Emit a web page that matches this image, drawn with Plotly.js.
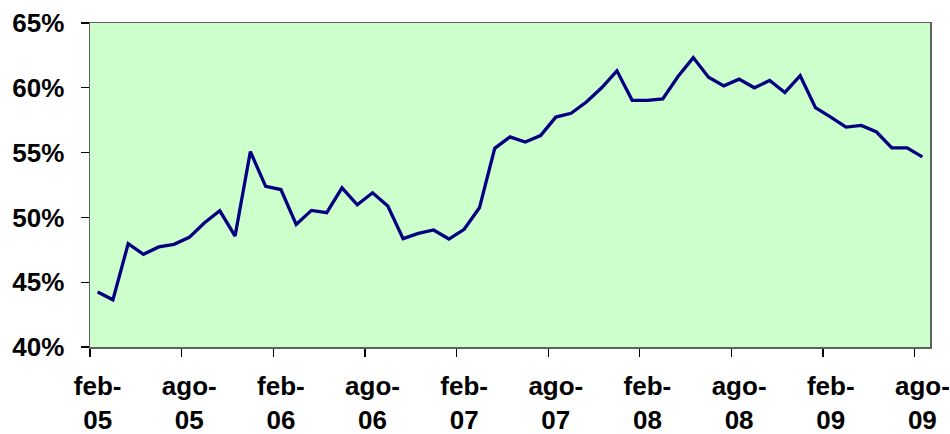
<!DOCTYPE html>
<html>
<head>
<meta charset="utf-8">
<script src="https://cdn.plot.ly/plotly-3.0.1.min.js"></script>
<style>html,body{margin:0;padding:0;background:#fff;}#chart{width:950px;height:434px;}</style>
</head>
<body>
<div id="chart"></div>
<script>
// Monthly series feb-05 .. ago-09 (percent)
const values = [
  44.25, 43.64, 47.97, 47.15, 47.72, 47.92, 48.46, 49.59, 50.51, 48.56,
  55.08, 52.40, 52.15, 49.46, 50.54, 50.36, 52.28, 50.97, 51.90, 50.87,
  48.36, 48.77, 49.03, 48.33, 49.08, 50.74, 55.33, 56.21, 55.82, 56.31,
  57.74, 58.03, 58.90, 60.00, 61.31, 59.03, 59.03, 59.15, 60.87, 62.33,
  60.82, 60.15, 60.67, 60.00, 60.56, 59.64, 60.93, 58.47, 57.74, 56.97,
  57.10, 56.59, 55.36, 55.36, 54.67
];
const tickLabels = ["feb-<br>05","ago-<br>05","feb-<br>06","ago-<br>06","feb-<br>07",
                    "ago-<br>07","feb-<br>08","ago-<br>08","feb-<br>09","ago-<br>09"];
const yTicks = [0.40, 0.45, 0.50, 0.55, 0.60, 0.65];

const monthIndex = values.map((v, i) => i);
const shares = values.map(v => v / 100);
const labelPos = tickLabels.map((t, k) => k * 6);        // category centres
const tickPos = labelPos.map(p => p - 0.5);               // category boundaries
const xRange = [-0.5, values.length - 0.5];

const font = {family: "Liberation Sans, Arial, sans-serif", size: 26, color: "#000", weight: 700};

Plotly.newPlot("chart", [{
  x: monthIndex,
  y: shares,
  type: "scatter",
  mode: "lines",
  line: {color: "#000080", width: 3.3},
  hoverinfo: "skip"
}, {
  x: monthIndex,
  y: shares,
  xaxis: "x2",
  type: "scatter",
  mode: "lines",
  line: {color: "rgba(0,0,0,0)", width: 0},
  hoverinfo: "skip"
}], {
  width: 950, height: 434,
  margin: {l: 90, r: 20, t: 23, b: 87},
  paper_bgcolor: "#ffffff",
  plot_bgcolor: "#CCFFCC",
  showlegend: false,
  xaxis: {
    range: xRange,
    tickmode: "array",
    tickvals: tickPos,
    showticklabels: false,
    ticks: "outside", ticklen: 8, tickwidth: 1.2, tickcolor: "#000",
    showgrid: false, zeroline: false,
    showline: true, linecolor: "#606060", linewidth: 1.5, mirror: true
  },
  xaxis2: {
    range: xRange,
    overlaying: "x",
    anchor: "y",
    side: "bottom",
    tickmode: "array",
    tickvals: labelPos,
    ticktext: tickLabels,
    ticks: "",
    ticklabelstandoff: 21,
    showgrid: false, zeroline: false, showline: false,
    tickfont: font, tickangle: 0
  },
  yaxis: {
    range: [0.40, 0.65],
    tickmode: "array",
    tickvals: yTicks,
    tickformat: ".0%",
    ticks: "outside", ticklen: 8, tickwidth: 1.2, tickcolor: "#000",
    ticklabelstandoff: 11,
    showgrid: false, zeroline: false,
    showline: true, linecolor: "#606060", linewidth: 1.5, mirror: true,
    tickfont: font
  }
}, {staticPlot: true});
</script>
</body>
</html>
